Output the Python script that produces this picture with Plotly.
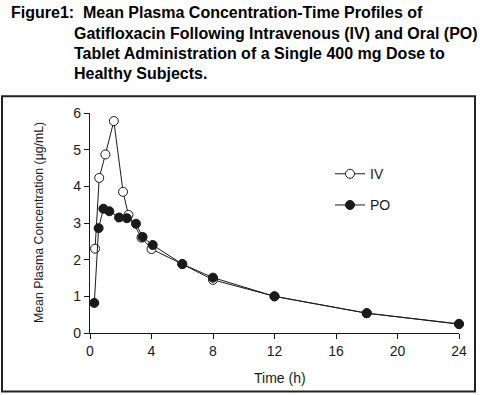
import plotly.graph_objects as go

# ---- data ----
iv_time = [0.33, 0.6, 1.0, 1.55, 2.15, 2.5, 3.35, 4.0, 6.0, 8.0, 12.0, 18.0, 24.0]
iv_conc = [2.3, 4.23, 4.87, 5.78, 3.85, 3.22, 2.6, 2.29, 1.88, 1.45, 1.0, 0.54, 0.24]
po_time = [0.28, 0.56, 0.87, 1.26, 1.89, 2.4, 2.99, 3.42, 4.08, 6.0, 8.0, 12.0, 18.0, 24.0]
po_conc = [0.82, 2.86, 3.39, 3.32, 3.15, 3.13, 2.98, 2.62, 2.4, 1.88, 1.51, 1.0, 0.54, 0.25]
x_ticks = [0, 4, 8, 12, 16, 20, 24]
y_ticks = [0, 1, 2, 3, 4, 5, 6]
x_title = "Time (h)"
y_title = "Mean Plasma Concentration (µg/mL)"
title_lines = [
    "Figure1:  Mean Plasma Concentration-Time Profiles of",
    "Gatifloxacin Following Intravenous (IV) and Oral (PO)",
    "Tablet Administration of a Single 400 mg Dose to",
    "Healthy Subjects.",
]

W_FIG, H_FIG = 480, 395
L, R, T, B = 90, 459, 112.7, 333.3
PW, PH = R - L, B - T

def px_x(p):
    return (p - L) / PW

def px_y(p):
    return (B - p) / PH

FONT = "Liberation Sans, Arial, Helvetica, sans-serif"
INK = "#1a1a1a"

fig = go.Figure()
fig.add_trace(go.Scatter(
    x=iv_time, y=iv_conc, mode="lines+markers", name="IV",
    line=dict(color=INK, width=1),
    marker=dict(symbol="circle", size=9, color="white", line=dict(color=INK, width=1)),
    cliponaxis=False, legendgroup="iv",
))
fig.add_trace(go.Scatter(
    x=po_time, y=po_conc, mode="lines+markers", name="PO",
    line=dict(color=INK, width=1),
    marker=dict(symbol="circle", size=9, color=INK, line=dict(color=INK, width=1)),
    cliponaxis=False, legendgroup="po",
))

axis_common = dict(
    showline=True, linecolor=INK, linewidth=1.2, showgrid=False, zeroline=False,
    ticks="outside", ticklen=5, tickwidth=1.2, tickcolor=INK,
    tickfont=dict(family=FONT, size=14, color=INK),
)
fig.update_xaxes(range=[0, 24], tickvals=x_ticks, **axis_common)
fig.update_yaxes(range=[0, 6], tickvals=y_ticks, **axis_common)

annotations = []
title_y = [12, 32.5, 53, 73.5]
title_x = [9, 72, 72, 72]
for txt, yy, xx in zip(title_lines, title_y, title_x):
    annotations.append(dict(
        text="<b>" + txt + "</b>", xref="paper", yref="paper",
        x=px_x(xx), y=px_y(yy), xanchor="left", yanchor="middle",
        showarrow=False, font=dict(family=FONT, size=16, color="black"),
    ))
annotations.append(dict(
    text=x_title, xref="paper", yref="paper", x=px_x(280), y=px_y(378),
    xanchor="center", yanchor="middle", showarrow=False,
    font=dict(family=FONT, size=14, color=INK),
))
annotations.append(dict(
    text=y_title, xref="paper", yref="paper", x=px_x(39), y=px_y(223),
    xanchor="center", yanchor="middle", showarrow=False, textangle=-90,
    font=dict(family=FONT, size=12.3, color=INK),
))

fig.update_layout(
    width=W_FIG, height=H_FIG,
    margin=dict(l=L, r=W_FIG - R, t=T, b=H_FIG - B, pad=0),
    paper_bgcolor="white", plot_bgcolor="white",
    showlegend=True,
    legend=dict(x=px_x(330), y=px_y(158), xanchor="left", yanchor="top",
                font=dict(family=FONT, size=14, color=INK), bgcolor="rgba(0,0,0,0)",
                tracegroupgap=10, itemwidth=30),
    annotations=annotations,
    shapes=[dict(type="rect", xref="paper", yref="paper",
                 x0=px_x(2), x1=px_x(475), y0=px_y(392), y1=px_y(96),
                 line=dict(color="#222222", width=2), fillcolor="rgba(0,0,0,0)", layer="below")],
)

fig.write_html("out.html", config={"displayModeBar": False},
               post_script="document.body.style.margin='0';document.body.style.padding='0';")
